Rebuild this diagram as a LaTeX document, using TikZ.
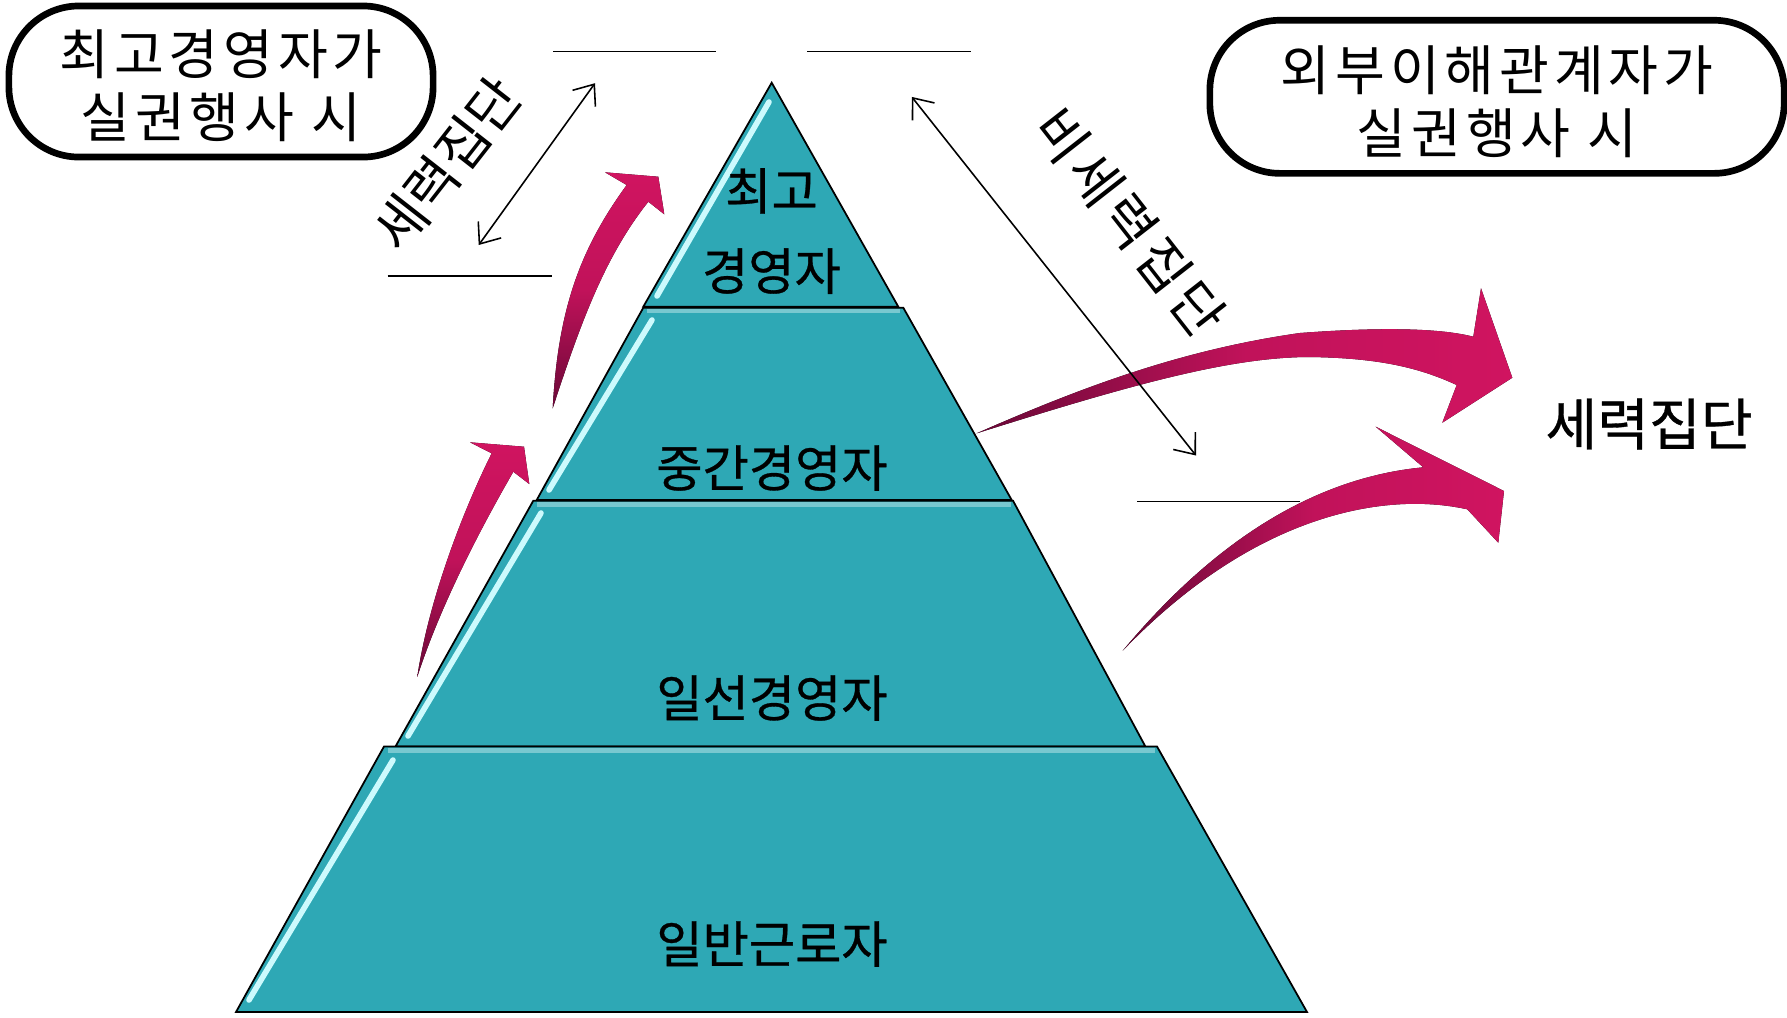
\documentclass[tikz,border=0pt]{standalone}
\usepackage{fontspec}
\setmainfont{Noto Sans CJK KR}
\newfontfamily\boxfont[LetterSpace=9]{Noto Sans CJK KR}
\newfontfamily\tierfont[FakeBold=0.6]{Noto Sans CJK KR}
\usetikzlibrary{arrows.meta}
\definecolor{tealfill}{RGB}{46,168,181}
\definecolor{hilite}{RGB}{205,250,253}
\definecolor{topband}{RGB}{120,200,208}
\definecolor{pinkhead}{RGB}{208,20,96}
\definecolor{pinktail}{RGB}{105,8,55}
\tikzset{
  tier/.style={fill=tealfill, draw=black, line width=0.5pt, line join=miter},
  hl/.style={draw=hilite, line width=1.6pt, line cap=round},
  tband/.style={draw=topband, line width=1.2pt},
  capsule/.style={draw=black, line width=1.9pt, rounded corners=0.7cm, inner sep=0pt},
  capsuletext/.style={align=center, font=\boxfont\fontsize{15.4pt}{17.8pt}\selectfont, inner sep=0pt},
  tierlabel/.style={font=\tierfont\fontsize{14.3pt}{22.8pt}\selectfont, align=center, inner sep=0pt},
  sidelabel/.style={font=\fontsize{15.5pt}{17pt}\selectfont, inner sep=0pt},
  guide/.style={draw=black, line width=0.5pt},
  dblarrow/.style={draw=black, line width=0.45pt, {Straight Barb[length=5pt,width=8pt]}-{Straight Barb[length=5pt,width=8pt]}},
}
\begin{document}
\begin{tikzpicture}[x=0.01cm,y=-0.01cm]
\useasboundingbox (0,0) rectangle (1787,1017);

% guide lines
\draw[guide] (553,51.5) -- (716,51.5);
\draw[guide] (807,51.5) -- (971,51.5);
\draw[guide] (387.5,276) -- (551.6,276);
\draw[guide] (1137,501.5) -- (1300,501.5);

% pyramid tiers
\path[tier] (771.7,82.7) -- (898.3,306.7) -- (643.3,306.7) -- cycle;
\path[tier] (643.3,307.7) -- (903.3,307.7) -- (1011.7,500) -- (536.7,500) -- cycle;
\path[tier] (533.3,500.7) -- (1013,500.7) -- (1145.4,746.5) -- (395.5,746.5) -- cycle;
\path[tier] (384,746.5) -- (1157,746.5) -- (1307,1012) -- (236,1012) -- cycle;

% bevel bands on top edges
\draw[tband] (647,311) -- (900,311);
\draw[tband] (537,504.5) -- (1011,504.5);
\draw[tband] (388,750.5) -- (1155,750.5);

% highlights along left edges
\draw[hl] (769,102) -- (657,296);
\draw[hl] (652,320) -- (549,490);
\draw[hl] (541,513) -- (408,736);
\draw[hl] (393,760) -- (249,1000);

% tier labels
\node[tierlabel] (top) at (771.5,231) {최고\\경영자};
\node[tierlabel] (mid) at (772,468) {중간경영자};
\node[tierlabel] (line) at (772,698) {일선경영자};
\node[tierlabel] (base) at (772,944) {일반근로자};

% capsules
\node[capsule, minimum width=4.24cm, minimum height=1.51cm] (ceo) at (221,81.5) {};
\node[capsuletext] (ceotext) at (221,85.5) {최고경영자가\\실권행사 시};
\node[capsule, minimum width=5.74cm, minimum height=1.53cm] (ext) at (1497,96.8) {};
\node[capsuletext] (exttext) at (1497,101.5) {외부이해관계자가\\실권행사 시};

% pink curved arrows
\fill[bottom color=pinktail, top color=pinkhead, middle color=pinkhead!85!pinktail]
  (417.3,676.7) .. controls (429.3,596.7) and (464.7,507.3) .. (491.7,453.3)
  -- (470,442.3) -- (524,446.7) -- (529.3,484) -- (513.3,471.7)
  .. controls (483.3,523.9) and (442.1,600.7) .. (417.3,676.7) -- cycle;
\fill[bottom color=pinktail, top color=pinkhead, middle color=pinkhead!85!pinktail]
  (552.7,408.3) .. controls (558,310) and (579.5,249.8) .. (626.7,185)
  -- (605,172.3) -- (658.3,176.7) -- (664.3,214.3) -- (648.3,201.7)
  .. controls (604.9,256.3) and (580.6,322.8) .. (552.7,408.3) -- cycle;
\fill[left color=pinktail, right color=pinkhead, middle color=pinkhead!85!pinktail]
  (976.7,433.3) .. controls (1080,388) and (1180,350) .. (1300,333)
  .. controls (1380,327) and (1440,328) .. (1473.3,336.7)
  -- (1481,288.3) -- (1512.3,377.7) -- (1442.3,422.7) -- (1456.7,385)
  .. controls (1420,368) and (1380,358) .. (1310,357)
  .. controls (1230,357) and (1130,385) .. (976.7,433.3) -- cycle;
\fill[left color=pinktail, right color=pinkhead, middle color=pinkhead!85!pinktail]
  (1122.7,650.7) .. controls (1190,570) and (1290,480) .. (1423.3,467.3)
  -- (1375.7,426.7) -- (1504,491) -- (1498.3,542.7) -- (1467.3,509.3)
  .. controls (1380,490) and (1250,518) .. (1122.7,650.7) -- cycle;

% double arrows
\coordinate (la1) at (595,83.2);
\coordinate (la2) at (478.7,245);
\draw[dblarrow] (la1) -- (la2);
\coordinate (ra1) at (911.8,96.9);
\coordinate (ra2) at (1196,455.5);
\draw[dblarrow] (ra1) -- (ra2);

% rotated labels
\node[sidelabel, rotate=52] (power) at (447,164) {세력집단};
\node[sidelabel, rotate=-52, font=\boxfont\fontsize{15.5pt}{17pt}\selectfont] (nonpower) at (1130,222) {비세력집단};
\node[sidelabel, font=\tierfont\fontsize{16pt}{17pt}\selectfont] (powerR) at (1649,424) {세력집단};
\end{tikzpicture}
\end{document}
